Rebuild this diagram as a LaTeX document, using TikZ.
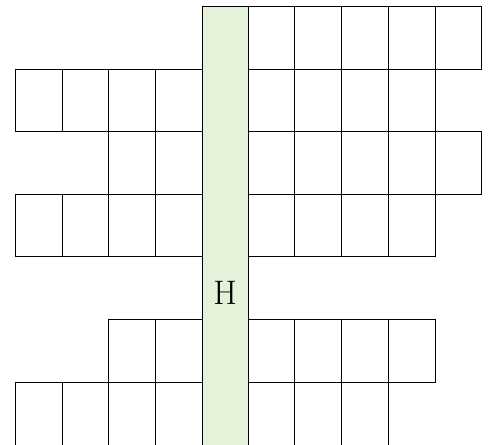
\documentclass[tikz,border=0pt]{standalone}
\usepackage{tikz}
\definecolor{hgreen}{RGB}{227,242,217}
\begin{document}
\begin{tikzpicture}[x=1pt,y=-1pt,
  cellbox/.style={draw=black,line width=1pt,minimum width=46.75pt,minimum height=62.55pt,inner sep=0pt,outer sep=0pt,anchor=north west},
  lastrow/.style={minimum height=75pt}]
\useasboundingbox (0,0) rectangle (489,444);
\clip (0,0) rectangle (489,444);
% green column
\fill[hgreen] (202.3,6.7) rectangle (248,460);
\draw[line width=1pt] (202.3,460) -- (202.3,6.7) -- (248,6.7) -- (248,460);
\node[inner sep=0pt,font=\fontsize{34}{40}\selectfont] (H) at (225.2,293) {H};
% left cells: row / list of columns
\foreach \k/\cols in {1/{0,1,2,3},2/{2,3},3/{0,1,2,3},5/{2,3}}{
  \foreach \i in \cols{
    \node[cellbox] (l-\k-\i) at ({15.3+46.75*\i},{6.7+62.55*\k}) {};
  }
}
\foreach \i in {0,1,2,3}{
  \node[cellbox,lastrow] (l-6-\i) at ({15.3+46.75*\i},{6.7+62.55*6}) {};
}
% right cells
\foreach \k/\cols in {0/{0,1,2,3,4},1/{0,1,2,3},2/{0,1,2,3,4},3/{0,1,2,3},5/{0,1,2,3}}{
  \foreach \j in \cols{
    \node[cellbox] (r-\k-\j) at ({248+46.8*\j},{6.7+62.55*\k}) {};
  }
}
\foreach \j in {0,1,2}{
  \node[cellbox,lastrow] (r-6-\j) at ({248+46.8*\j},{6.7+62.55*6}) {};
}
\end{tikzpicture}
\end{document}
